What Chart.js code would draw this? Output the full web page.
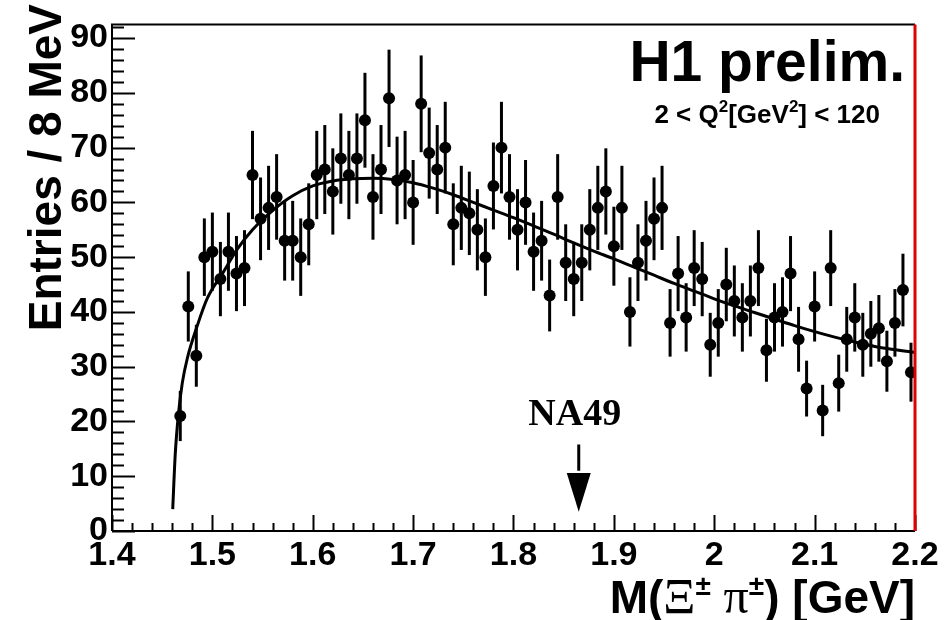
<!DOCTYPE html>
<html>
<head>
<meta charset="utf-8">
<script src="https://cdn.jsdelivr.net/npm/chart.js@4.4.0/dist/chart.umd.min.js"></script>
<style>
    html, body { margin: 0; padding: 0; background: #fff; }
    #wrap { width: 944px; height: 620px; }
</style>
</head>
<body>
<div id="wrap"><canvas id="massChart" width="944" height="620"></canvas></div>
<script>
// 빈 중심값 (GeV), 8 MeV 폭
const binCenters = [
    1.468, 1.476, 1.484, 1.492, 1.500, 1.508, 1.516, 1.524, 1.532, 1.540,
    1.548, 1.556, 1.564, 1.572, 1.580, 1.588, 1.596, 1.604, 1.612, 1.620,
    1.628, 1.636, 1.644, 1.652, 1.660, 1.668, 1.676, 1.684, 1.692, 1.700,
    1.708, 1.716, 1.724, 1.732, 1.740, 1.748, 1.756, 1.764, 1.772, 1.780,
    1.788, 1.796, 1.804, 1.812, 1.820, 1.828, 1.836, 1.844, 1.852, 1.860,
    1.868, 1.876, 1.884, 1.892, 1.900, 1.908, 1.916, 1.924, 1.932, 1.940,
    1.948, 1.956, 1.964, 1.972, 1.980, 1.988, 1.996, 2.004, 2.012, 2.020,
    2.028, 2.036, 2.044, 2.052, 2.060, 2.068, 2.076, 2.084, 2.092, 2.100,
    2.108, 2.116, 2.124, 2.132, 2.140, 2.148, 2.156, 2.164, 2.172, 2.180,
    2.188, 2.196
];

// 빈별 엔트리 수
const entries = [
    21, 41, 32, 50, 51, 46, 51, 47, 48, 65,
    57, 59, 61, 53, 53, 50, 56, 65, 66, 62,
    68, 65, 68, 75, 61, 66, 79, 64, 65, 60,
    78, 69, 66, 70, 56, 59, 58, 55, 50, 63,
    70, 61, 55, 60, 51, 53, 43, 61, 49, 46,
    49, 55, 59, 62, 52, 59, 40, 49, 53, 57,
    59, 38, 47, 39, 48, 46, 34, 38, 45, 42,
    39, 42, 48, 33, 39, 40, 47, 35, 26, 41,
    22, 48, 27, 35, 39, 34, 36, 37, 31, 38,
    44, 29
];

// 피팅 곡선 (그림에서 읽은 점)
const fitX = [1.4605, 1.463, 1.466, 1.470, 1.475, 1.485, 1.495, 1.510, 1.525, 1.540,
    1.560, 1.580, 1.600, 1.620, 1.640, 1.660, 1.680, 1.700, 1.720, 1.740,
    1.760, 1.780, 1.800, 1.820, 1.840, 1.860, 1.880, 1.900, 1.920, 1.940,
    1.960, 1.980, 2.000, 2.020, 2.040, 2.060, 2.080, 2.100, 2.120, 2.140,
    2.160, 2.180, 2.200];
const fitY = [4, 14, 21, 27, 31.5, 37.5, 42.5, 47, 51.5, 55,
    58.5, 61.2, 63, 63.9, 64.3, 64.4, 64.2, 63.6, 62.6, 61.4,
    60, 58.6, 57.2, 55.7, 54.2, 52.6, 51.1, 49.7, 48.2, 46.7,
    45.2, 43.8, 42.4, 41.1, 39.9, 38.7, 37.5, 36.4, 35.4, 34.5,
    33.7, 33.1, 32.6];

// 축 눈금
const xTicks = [1.4, 1.5, 1.6, 1.7, 1.8, 1.9, 2.0, 2.1, 2.2];
const yTicks = [0, 10, 20, 30, 40, 50, 60, 70, 80, 90];
const arrowMass = 1.865; // NA49 화살표 위치

const SANS = '"Liberation Sans", Arial, Helvetica, sans-serif';
const SERIF = '"Liberation Serif", "Times New Roman", serif';

// 여러 글꼴이 섞인 텍스트를 오른쪽 정렬로 그리기
function drawRich(ctx, parts, xRight, baseline) {
    let total = 0;
    parts.forEach(p => { ctx.font = p.font; total += ctx.measureText(p.t).width; });
    let cx = xRight - total;
    ctx.textAlign = 'left';
    ctx.textBaseline = 'alphabetic';
    parts.forEach(p => {
        ctx.font = p.font;
        ctx.fillText(p.t, cx, baseline - (p.dy || 0));
        cx += ctx.measureText(p.t).width;
    });
}

const decorPlugin = {
    id: 'h1Decor',
    beforeDatasetsDraw(chart) {
        // 에러바 (sqrt N)
        const { ctx, scales: { x, y } } = chart;
        ctx.save();
        ctx.strokeStyle = '#000';
        ctx.lineWidth = 3;
        binCenters.forEach((m, i) => {
            const n = entries[i];
            const err = Math.sqrt(n);
            const px = x.getPixelForValue(m);
            ctx.beginPath();
            ctx.moveTo(px, y.getPixelForValue(Math.min(n + err, y.max)));
            ctx.lineTo(px, y.getPixelForValue(n - err));
            ctx.stroke();
        });
        ctx.restore();
    },
    afterDraw(chart) {
        const { ctx, chartArea: a, scales: { x, y } } = chart;
        ctx.save();
        ctx.strokeStyle = '#000';
        ctx.lineWidth = 2;

        // y축 안쪽 눈금
        for (let v = 0; v <= y.max + 1e-6; v += 2) {
            const py = Math.round(y.getPixelForValue(v)) + 0.5;
            const len = (v % 10 === 0) ? 23 : 12;
            ctx.beginPath();
            ctx.moveTo(a.left, py);
            ctx.lineTo(a.left + len, py);
            ctx.stroke();
        }
        // x축 안쪽 눈금
        for (let k = 0; k <= 40; k++) {
            const v = 1.4 + k * 0.02;
            const px = Math.round(x.getPixelForValue(v)) + 0.5;
            const len = (k % 5 === 0) ? 16 : 8;
            ctx.beginPath();
            ctx.moveTo(px, a.bottom);
            ctx.lineTo(px, a.bottom - len);
            ctx.stroke();
        }

        // 프레임
        ctx.beginPath();
        ctx.moveTo(a.left, a.bottom);
        ctx.lineTo(a.left, a.top);
        ctx.lineTo(a.right, a.top);
        ctx.moveTo(a.left, a.bottom);
        ctx.lineTo(a.right, a.bottom);
        ctx.stroke();
        ctx.strokeStyle = '#e00000';
        ctx.lineWidth = 3;
        ctx.beginPath();
        ctx.moveTo(a.right, a.top);
        ctx.lineTo(a.right, a.bottom);
        ctx.stroke();

        // NA49 화살표
        const ax = x.getPixelForValue(arrowMass);
        ctx.strokeStyle = '#000';
        ctx.lineWidth = 3;
        ctx.beginPath();
        ctx.moveTo(ax, y.getPixelForValue(15.8));
        ctx.lineTo(ax, y.getPixelForValue(11));
        ctx.stroke();
        ctx.fillStyle = '#000';
        ctx.beginPath();
        ctx.moveTo(ax - 12, y.getPixelForValue(10.6));
        ctx.lineTo(ax + 12, y.getPixelForValue(10.6));
        ctx.lineTo(ax, y.getPixelForValue(3.5));
        ctx.closePath();
        ctx.fill();

        ctx.font = 'bold 38px ' + SERIF;
        ctx.textAlign = 'center';
        ctx.textBaseline = 'alphabetic';
        ctx.fillText('NA49', ax - 4, y.getPixelForValue(19.4));

        // 라벨
        ctx.font = 'bold 57px ' + SANS;
        ctx.textAlign = 'right';
        ctx.fillText('H1 prelim.', a.right - 10, 81);

        const f = 'bold 26px ' + SANS;
        const fs = 'bold 17px ' + SANS;
        drawRich(ctx, [
            { t: '2 < Q', font: f },
            { t: '2', font: fs, dy: 11 },
            { t: '[GeV', font: f },
            { t: '2', font: fs, dy: 11 },
            { t: '] < 120', font: f }
        ], a.right - 35, 123);

        // x축 제목
        const b = 'bold 46px ' + SANS;
        const g = '50px ' + SERIF;
        const sup = 'bold 28px ' + SANS;
        drawRich(ctx, [
            { t: 'M(', font: b },
            { t: 'Ξ', font: g },
            { t: '±', font: sup, dy: 18 },
            { t: ' ', font: b },
            { t: 'π', font: g },
            { t: '±', font: sup, dy: 18 },
            { t: ') [GeV]', font: b }
        ], a.right, 613);

        // y축 제목 (위쪽 끝 정렬)
        ctx.translate(61, 4);
        ctx.rotate(-Math.PI / 2);
        ctx.font = 'bold 46px ' + SANS;
        ctx.textAlign = 'right';
        ctx.textBaseline = 'alphabetic';
        ctx.fillText('Entries / 8 MeV', 0, 0);

        ctx.restore();
    }
};

function drawChart() {
    const ctx = document.getElementById('massChart').getContext('2d');

    window.chart = new Chart(ctx, {
        type: 'scatter',
        data: {
            datasets: [{
                type: 'line',
                label: 'fit',
                data: fitX.map((m, i) => ({ x: m, y: fitY[i] })),
                borderColor: '#000',
                borderWidth: 3,
                pointRadius: 0,
                cubicInterpolationMode: 'monotone',
                fill: false
            }, {
                label: 'data',
                data: binCenters.map((m, i) => ({ x: m, y: entries[i] })),
                backgroundColor: '#000',
                borderColor: '#000',
                pointRadius: 6,
                pointBorderWidth: 0
            }]
        },
        options: {
            responsive: false,
            animation: false,
            devicePixelRatio: 1,
            layout: {
                padding: { top: 9, right: 29, left: 0, bottom: 0 }
            },
            plugins: {
                legend: { display: false },
                tooltip: { enabled: false }
            },
            scales: {
                x: {
                    type: 'linear',
                    min: 1.4,
                    max: 2.2,
                    afterBuildTicks: axis => { axis.ticks = xTicks.map(v => ({ value: v })); },
                    afterFit: scale => { scale.height = 89; },
                    grid: { display: false, drawTicks: false },
                    border: { display: false },
                    ticks: {
                        autoSkip: false,
                        maxRotation: 0,
                        padding: 4,
                        color: '#000',
                        font: { family: SANS, size: 34, weight: 'bold' },
                        callback: v => String(parseFloat(v.toFixed(1)))
                    }
                },
                y: {
                    min: 0,
                    max: 92.5,
                    afterBuildTicks: axis => { axis.ticks = yTicks.map(v => ({ value: v })); },
                    afterFit: scale => { scale.width = 112; },
                    grid: { display: false, drawTicks: false },
                    border: { display: false },
                    ticks: {
                        padding: 4,
                        color: '#000',
                        font: { family: SANS, size: 34, weight: 'bold' }
                    }
                }
            }
        },
        plugins: [decorPlugin]
    });
}

document.addEventListener('DOMContentLoaded', () => {
    drawChart();
});
</script>
</body>
</html>
